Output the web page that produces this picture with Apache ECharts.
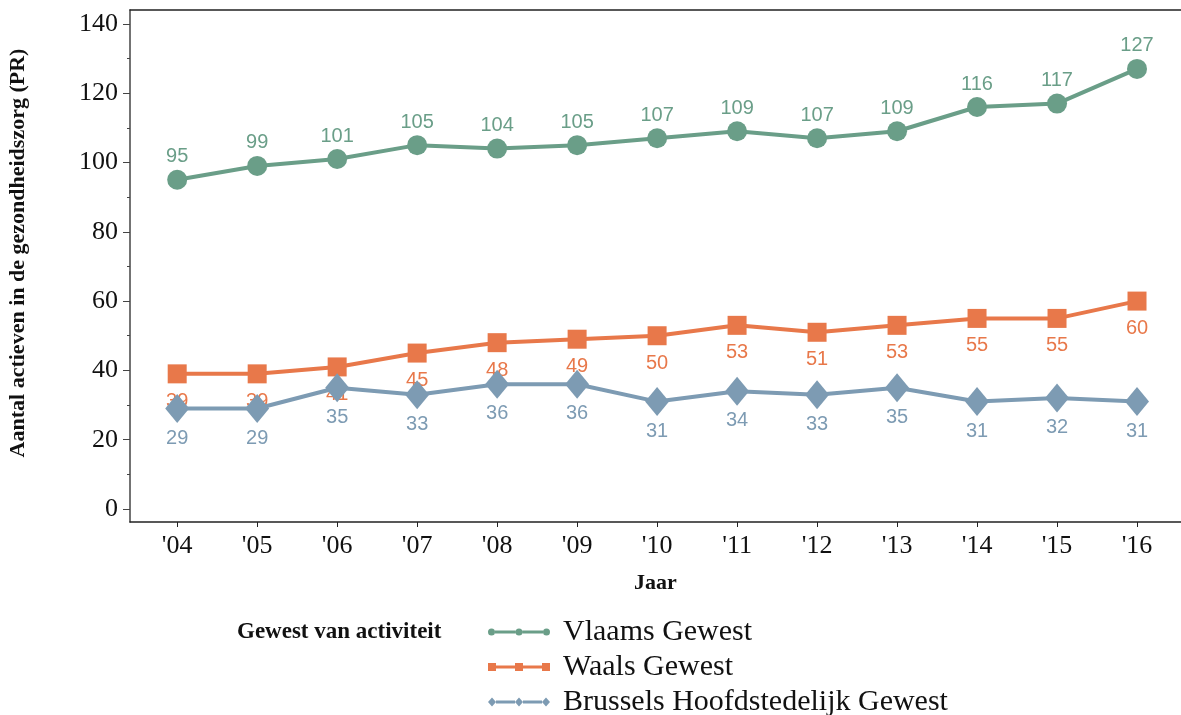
<!DOCTYPE html>
<html>
<head>
<meta charset="utf-8">
<script src="https://cdn.jsdelivr.net/npm/echarts@6/dist/echarts.min.js"></script>
<style>
  html, body { margin: 0; padding: 0; background: #fff; }
  #chart { width: 1181px; height: 715px; }
</style>
</head>
<body>
<div id="chart"></div>
<script>
var years = [2004, 2005, 2006, 2007, 2008, 2009, 2010, 2011, 2012, 2013, 2014, 2015, 2016];
var vlaams = [95, 99, 101, 105, 104, 105, 107, 109, 107, 109, 116, 117, 127];
var waals = [39, 39, 41, 45, 48, 49, 50, 53, 51, 53, 55, 55, 60];
var brussel = [29, 29, 35, 33, 36, 36, 31, 34, 33, 35, 31, 32, 31];
var yTicks = [0, 20, 40, 60, 80, 100, 120, 140];
var yMinorTicks = [10, 30, 50, 70, 90, 110, 130];
var seriesNames = ['Vlaams Gewest', 'Waals Gewest', 'Brussels Hoofdstedelijk Gewest'];

var green = '#6a9e88';
var orange = '#e8784a';
var blue = '#7d9bb3';
var serif = '"Liberation Serif", "DejaVu Serif", serif';
var sans = '"Liberation Sans", Arial, sans-serif';

// legend icons: line with three markers
var iconCircle = 'path://M0,3.5 A3.5,3.5 0 1,1 7,3.5 A3.5,3.5 0 1,1 0,3.5 Z ' +
  'M27.5,3.5 A3.5,3.5 0 1,1 34.5,3.5 A3.5,3.5 0 1,1 27.5,3.5 Z ' +
  'M55,3.5 A3.5,3.5 0 1,1 62,3.5 A3.5,3.5 0 1,1 55,3.5 Z ' +
  'M7,2 H27.5 V5 H7 Z M34.5,2 H55 V5 H34.5 Z';
var iconSquare = 'path://M0,0 H8 V8 H0 Z M27,0 H35 V8 H27 Z M54,0 H62 V8 H54 Z ' +
  'M8,2.5 H27 V5.5 H8 Z M35,2.5 H54 V5.5 H35 Z';
var iconDiamond = 'path://M0,4.5 L4,0 L8,4.5 L4,9 Z M27,4.5 L31,0 L35,4.5 L31,9 Z ' +
  'M54,4.5 L58,0 L62,4.5 L58,9 Z M8,3 H27 V6 H8 Z M35,3 H54 V6 H35 Z';
var icons = [iconCircle, iconSquare, iconDiamond];
var legendTops = [617, 652, 687];

function pairs(vals) {
  return years.map(function (y, i) { return [y, vals[i]]; });
}

// one legend per row so nothing wraps into a second column
function legendRow(i) {
  return {
    orient: 'vertical',
    left: 488,
    top: legendTops[i],
    padding: 0,
    itemWidth: 62,
    itemHeight: 12,
    itemStyle: { borderWidth: 0 },
    selectedMode: false,
    textStyle: { fontFamily: serif, fontSize: 30, lineHeight: 30, color: '#111', padding: [0, 0, 0, 8] },
    data: [{ name: seriesNames[i], icon: icons[i] }]
  };
}

var chart = echarts.init(document.getElementById('chart'));

var option = {
  backgroundColor: '#ffffff',
  animation: false,
  title: {
    text: 'Gewest van activiteit',
    left: 237,
    top: 621,
    padding: 0,
    textStyle: { fontFamily: serif, fontWeight: 'bold', fontSize: 23, color: '#111' }
  },
  legend: [legendRow(0), legendRow(1), legendRow(2)],
  grid: { left: 130, right: 0, top: 10, bottom: 193, outerBoundsMode: 'none' },
  xAxis: [{
    type: 'value',
    min: 2003.41,
    max: 2016.55,
    name: 'Jaar',
    nameLocation: 'middle',
    nameGap: 50,
    nameTextStyle: { fontFamily: serif, fontWeight: 'bold', fontSize: 22, color: '#111' },
    axisLine: { show: true, onZero: false, lineStyle: { color: '#222', width: 1.5 } },
    axisTick: { show: true, customValues: years, length: 5, lineStyle: { color: '#222' } },
    axisLabel: {
      customValues: years,
      margin: 11,
      fontFamily: serif,
      fontSize: 26,
      color: '#111',
      formatter: function (v) { return "'" + String(v).slice(2); }
    },
    splitLine: { show: false }
  }, {
    type: 'value',
    position: 'top',
    min: 2003.41,
    max: 2016.55,
    axisLine: { show: true, onZero: false, lineStyle: { color: '#222', width: 1.5 } },
    axisTick: { show: false },
    axisLabel: { show: false },
    splitLine: { show: false }
  }],
  yAxis: [{
    type: 'value',
    min: -3.75,
    max: 144,
    name: 'Aantal actieven in de gezondheidszorg (PR)',
    nameLocation: 'middle',
    nameGap: 101,
    nameTextStyle: { fontFamily: serif, fontWeight: 'bold', fontSize: 22, color: '#111', padding: [0, 0, 0, 26] },
    axisLine: { show: true, onZero: false, lineStyle: { color: '#444', width: 1.5 } },
    axisTick: { show: true, customValues: yTicks, length: 7, lineStyle: { color: '#444' } },
    axisLabel: {
      customValues: yTicks,
      margin: 12,
      fontFamily: serif,
      fontSize: 26,
      color: '#111'
    },
    splitLine: { show: false }
  }, {
    type: 'value',
    position: 'left',
    min: -3.75,
    max: 144,
    axisLine: { show: false, onZero: false },
    axisTick: { show: true, customValues: yMinorTicks, length: 3, lineStyle: { color: '#444' } },
    axisLabel: { show: false },
    splitLine: { show: false }
  }],
  series: [{
    name: seriesNames[0],
    type: 'line',
    z: 2,
    data: pairs(vlaams),
    symbol: 'circle',
    symbolSize: 20,
    lineStyle: { color: green, width: 4 },
    itemStyle: { color: green, borderWidth: 0 },
    label: { show: true, position: 'top', distance: 3, fontFamily: sans, fontSize: 20, color: green }
  }, {
    name: seriesNames[1],
    type: 'line',
    z: 2,
    data: pairs(waals),
    symbol: 'rect',
    symbolSize: 19,
    lineStyle: { color: orange, width: 4 },
    itemStyle: { color: orange, borderWidth: 0 },
    label: { show: true, position: 'bottom', distance: 8, fontFamily: sans, fontSize: 20, color: orange }
  }, {
    name: seriesNames[2],
    type: 'line',
    z: 3,
    data: pairs(brussel),
    symbol: 'diamond',
    symbolSize: [24, 29],
    lineStyle: { color: blue, width: 4 },
    itemStyle: { color: blue, borderWidth: 0 },
    label: { show: true, position: 'bottom', distance: 5, fontFamily: sans, fontSize: 20, color: blue }
  }]
};

chart.setOption(option);
</script>
</body>
</html>
